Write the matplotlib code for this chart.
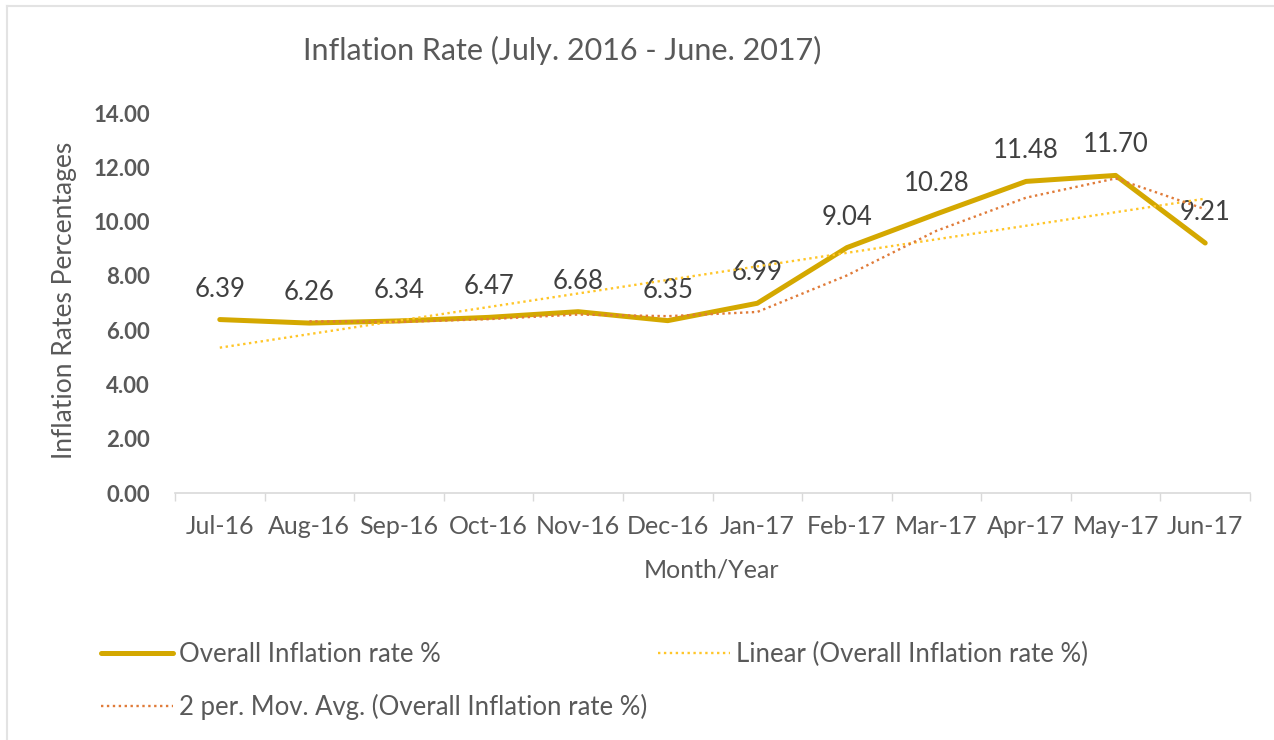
import numpy as np
import pandas as pd
import matplotlib
matplotlib.use("Agg")
import matplotlib.pyplot as plt
from matplotlib.lines import Line2D

plt.rcParams['font.family'] = ['Lato', 'DejaVu Sans']

months = ["Jul-16", "Aug-16", "Sep-16", "Oct-16", "Nov-16", "Dec-16",
          "Jan-17", "Feb-17", "Mar-17", "Apr-17", "May-17", "Jun-17"]
inflation = [6.39, 6.26, 6.34, 6.47, 6.68, 6.35, 6.99, 9.04, 10.28, 11.48, 11.70, 9.21]
y_ticks = [0, 2, 4, 6, 8, 10, 12, 14]

title = "Inflation Rate (July. 2016 - June. 2017)"
x_label = "Month/Year"
y_label = "Inflation Rates Percentages"
series_name = "Overall Inflation rate %"

main_color = "#D4A800"
linear_color = "#FFC629"
mavg_color = "#E07B39"
text_color = "#595959"
label_color = "#404040"

x = np.arange(len(months))
y = np.array(inflation)

# Excel-style derived series (2-period moving average and linear trendline)
mavg = pd.Series(y).rolling(2).mean().to_numpy()
coef = np.polyfit(x + 1, y, 1)
trend = np.polyval(coef, x + 1)

fig = plt.figure(figsize=(12.74, 7.40), dpi=100)
ax = fig.add_axes([175/1274, 1 - 493/740, (1250 - 175)/1274, (493 - 113)/740])

ax.plot(x, y, color=main_color, lw=3.6, solid_capstyle='round',
        solid_joinstyle='round', zorder=3)
ax.plot(x, trend, color=linear_color, lw=1.7, linestyle=(0, (1, 1.5)), zorder=4)
ax.plot(x, mavg, color=mavg_color, lw=1.7, linestyle=(0, (1, 1.5)), zorder=4)

for xi, yi in zip(x, y):
    ax.annotate(f"{yi:.2f}", (xi, yi), xytext=(0, 22), textcoords='offset points',
                ha='center', va='center', fontsize=18.5, color=label_color)

ax.set_xlim(-0.5, len(months) - 0.5)
ax.set_ylim(0, 14)
ax.set_yticks(y_ticks)
ax.set_yticklabels([f"{v:.2f}" for v in y_ticks], fontsize=16, color=text_color,
                   fontweight='bold')
ax.set_xticks(x)
ax.set_xticklabels(months, fontsize=18, color=text_color)
ax.set_xticks(np.arange(-0.5, len(months)), minor=True)
ax.tick_params(axis='x', which='major', length=0, pad=16)
ax.tick_params(axis='x', which='minor', length=6, color="#D9D9D9", width=1)
ax.tick_params(axis='y', length=0, pad=18)

for s in ['top', 'right', 'left']:
    ax.spines[s].set_visible(False)
ax.spines['bottom'].set_color("#D9D9D9")
ax.spines['bottom'].set_linewidth(1.2)

fig.text(562/1274, 1 - 50/740, title, ha='center', va='center', fontsize=22,
         color=text_color)
fig.text(65/1274, 1 - 300/740, y_label, rotation=90, ha='center', va='center',
         fontsize=19, color=text_color)
fig.text(712/1274, 1 - 570/740, x_label, ha='center', va='center', fontsize=18,
         color=text_color)

handles = [
    Line2D([], [], color=main_color, lw=3.6, solid_capstyle='round'),
    Line2D([], [], color=mavg_color, lw=1.7, linestyle=(0, (1, 1.5))),
    Line2D([], [], color=linear_color, lw=1.7, linestyle=(0, (1, 1.5))),
]
labels = [series_name,
          f"2 per. Mov. Avg. ({series_name})",
          f"Linear ({series_name})"]
leg = fig.legend(handles, labels, loc='upper left', ncol=2,
                 bbox_to_anchor=(78/1274, 1 - 619/740), frameon=False,
                 fontsize=18.5, handlelength=2.8, handletextpad=0.25,
                 columnspacing=0.4, labelspacing=1.03)
for t in leg.get_texts():
    t.set_color(text_color)

# light frame lines on top and left
fig.add_artist(Line2D([7/1274, 7/1274], [0, 1 - 6/740], transform=fig.transFigure,
                      color="#E3E3E3", lw=1.5))
fig.add_artist(Line2D([7/1274, 1], [1 - 6/740, 1 - 6/740], transform=fig.transFigure,
                      color="#E3E3E3", lw=1.5))

fig.savefig("out.png", dpi=100, facecolor='white')
